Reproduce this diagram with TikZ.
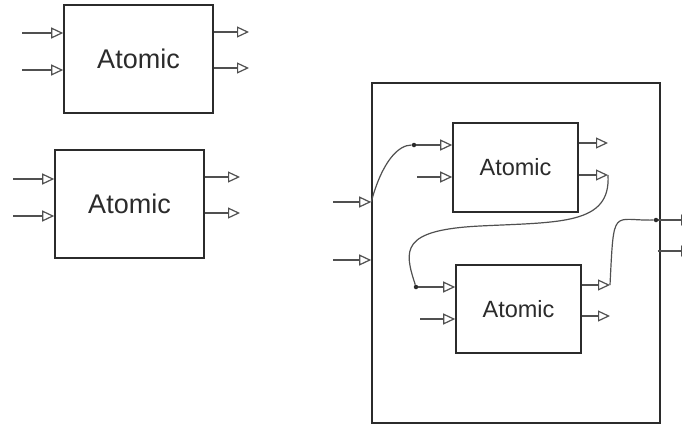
\documentclass[tikz,border=0pt]{standalone}
\usepackage{fontspec}
\setsansfont{Liberation Sans}
\usetikzlibrary{arrows.meta}
\definecolor{atInk}{HTML}{2B2B2B}
\definecolor{atWire}{HTML}{505050}
\tikzset{
  atbox/.style={
    draw=atInk,
    line width=1.6pt,
    fill=white,
    inner sep=0pt,
    text=atInk,
    font=\sffamily\fontsize{27}{31}\selectfont
  },
  atsmall/.style={font=\sffamily\fontsize{23.5}{27}\selectfont},
  atframe/.style={draw=atInk, line width=1.6pt, inner sep=0pt},
  atport/.style={-{Triangle[open, length=12pt, width=11pt]}, draw=atWire, line width=1.2pt},
  atwire/.style={draw=atWire, line width=1.2pt},
  atdot/.style={circle, fill=atInk, inner sep=0pt, minimum size=4.5pt}
}

\begin{document}
\begin{tikzpicture}[x=1pt, y=-1pt, font=\sffamily]
  \path[use as bounding box] (0,0) rectangle (682,424);
  \clip (0,0) rectangle (682,424);

  % two single atomic models
  \node[atbox, minimum width=149pt, minimum height=108pt] (top) at (138.5,59) {Atomic};
  \node[atbox, minimum width=149pt, minimum height=108pt] (bottom) at (129.5,204) {Atomic};

  % coupled model
  \node[atframe, minimum width=288pt, minimum height=340pt] (coupled) at (516,253) {};
  \node[atbox, atsmall, minimum width=125pt, minimum height=89pt] (upper) at (515.5,167.5) {Atomic};
  \node[atbox, atsmall, minimum width=125pt, minimum height=88pt] (lower) at (518.5,309) {Atomic};

  \node[atdot] (j1) at (414,145) {};
  \node[atdot] (j2) at (416,287) {};
  \node[atdot] (j3) at (656,220) {};

  % port ends
  \coordinate (top-in1) at (22,33);
  \coordinate (top-in2) at (22,70);
  \coordinate (top-out1) at (249,32);
  \coordinate (top-out2) at (249,68);
  \coordinate (bottom-in1) at (13,179);
  \coordinate (bottom-in2) at (13,216);
  \coordinate (bottom-out1) at (240,177);
  \coordinate (bottom-out2) at (240,213);
  \coordinate (upper-in2) at (417,177);
  \coordinate (upper-out1) at (608,143);
  \coordinate (upper-out2) at (608,175);
  \coordinate (lower-in2) at (420,319);
  \coordinate (lower-out1) at (610,285);
  \coordinate (lower-out2) at (610,316);
  \coordinate (coupled-in1) at (333,202);
  \coordinate (coupled-in2) at (333,260);
  \coordinate (coupled-out1) at (693,220);
  \coordinate (coupled-out2) at (693,251);
  \coordinate (bend) at (480,226);

  \draw[atport] (top-in1) -- (top-in1 -| top.west);
  \draw[atport] (top-in2) -- (top-in2 -| top.west);
  \draw[atport] (top-out1 -| top.east) -- (top-out1);
  \draw[atport] (top-out2 -| top.east) -- (top-out2);

  \draw[atport] (bottom-in1) -- (bottom-in1 -| bottom.west);
  \draw[atport] (bottom-in2) -- (bottom-in2 -| bottom.west);
  \draw[atport] (bottom-out1 -| bottom.east) -- (bottom-out1);
  \draw[atport] (bottom-out2 -| bottom.east) -- (bottom-out2);

  \draw[atport] (j1) -- (j1 -| upper.west);
  \draw[atport] (upper-in2) -- (upper-in2 -| upper.west);
  \draw[atport] (upper-out1 -| upper.east) -- (upper-out1);
  \draw[atport] (upper-out2 -| upper.east) -- (upper-out2);

  \draw[atport] (j2) -- (j2 -| lower.west);
  \draw[atport] (lower-in2) -- (lower-in2 -| lower.west);
  \draw[atport] (lower-out1 -| lower.east) -- (lower-out1);
  \draw[atport] (lower-out2 -| lower.east) -- (lower-out2);

  \draw[atport] (coupled-in1) -- (coupled-in1 -| coupled.west);
  \draw[atport] (coupled-in2) -- (coupled-in2 -| coupled.west);
  \draw[atport] (j3) -- (coupled-out1);
  \draw[atport] ([xshift=-3pt]coupled-out2 -| coupled.east) -- (coupled-out2);

  % couplings
  \draw[atwire] (coupled-in1 -| coupled.west) .. controls (382,162) and (398,145) .. (j1);
  \draw[atwire] (upper-out2) .. controls (611,225) and (560,222) .. (bend)
    .. controls (400,230) and (404,250) .. (j2);
  \draw[atwire] (lower-out1) .. controls (614,205) and (612,221) .. (j3);
\end{tikzpicture}
\end{document}
